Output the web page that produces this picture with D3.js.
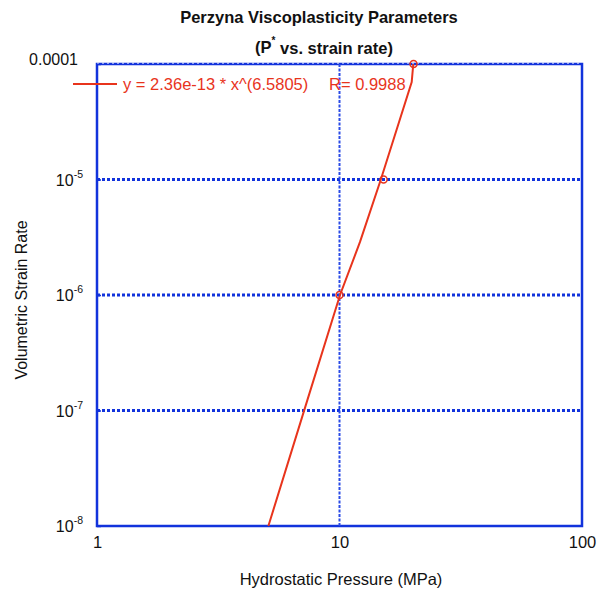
<!DOCTYPE html>
<html>
<head>
<meta charset="utf-8">
<script src="https://cdn.jsdelivr.net/npm/d3@7"></script>
<style>
  body { margin: 0; background: #fff; }
  svg { font-family: "Liberation Sans", Arial, Helvetica, sans-serif; }
</style>
</head>
<body>
<svg id="chart" width="600" height="591"></svg>
<script>
// measured points (circles)
var pressure = [10, 15.2, 20.2];
var strainRate = [1e-6, 1e-5, 1e-4];
// power-law fit line as drawn
var fitX = [5.09, 7.37, 10.05, 12.15, 14.83, 19.85, 20.15];
var fitY = [1e-8, 1.23e-7, 1e-6, 2.88e-6, 1.01e-5, 6.98e-5, 1e-4];
// ticks
var xTicks = [1, 10, 100];
var yTicks = [1e-8, 1e-7, 1e-6, 1e-5, 1e-4];
var yExp = [-8, -7, -6, -5, -4];

var fitLabel = "y = 2.36e-13 * x^(6.5805)";
var rLabel = "R= 0.9988";

(function() {
var pLeft = 97, pRight = 582, pTop = 64, pBottom = 526;
var blue = "#1233dc", red = "#e8341c";

var svg = d3.select("#chart");

var x = d3.scaleLog().domain([1, 100]).range([pLeft, pRight]);
var y = d3.scaleLog().domain([1e-8, 1e-4]).range([pBottom, pTop]);

// frame
svg.append("rect")
    .attr("x", pLeft).attr("y", pTop)
    .attr("width", pRight - pLeft).attr("height", pBottom - pTop)
    .attr("fill", "none")
    .attr("stroke", blue)
    .attr("stroke-width", 2.5);

// horizontal grid (inner decades)
svg.append("g").selectAll("line")
    .data(yTicks.filter(function(d) { return d > 1e-8 && d < 1e-4; }))
    .join("line")
    .attr("x1", pLeft).attr("x2", pRight)
    .attr("y1", function(d) { return y(d); })
    .attr("y2", function(d) { return y(d); })
    .attr("stroke", blue)
    .attr("stroke-width", 3)
    .attr("stroke-dasharray", "3,2");

// top edge dotted look
svg.append("line")
    .attr("x1", pLeft).attr("x2", pRight)
    .attr("y1", pTop - 0.8).attr("y2", pTop - 0.8)
    .attr("stroke", "#fff")
    .attr("stroke-width", 0.8)
    .attr("stroke-dasharray", "2,3");

// vertical grid
svg.append("g").selectAll("line")
    .data(xTicks.filter(function(d) { return d > 1 && d < 100; }))
    .join("line")
    .attr("x1", function(d) { return x(d); })
    .attr("x2", function(d) { return x(d); })
    .attr("y1", pTop).attr("y2", pBottom)
    .attr("stroke", "#2a4be6")
    .attr("stroke-width", 2)
    .attr("stroke-dasharray", "3,1.5");

// axes
var xAxis = svg.append("g")
    .attr("transform", "translate(0," + pBottom + ")")
    .call(d3.axisBottom(x).tickValues(xTicks).tickFormat(d3.format("d")).tickSize(0).tickPadding(10));
xAxis.select(".domain").remove();
xAxis.selectAll("text")
    .attr("font-size", 16.5)
    .attr("fill", "#111")
    .attr("font-family", null);

var yAxis = svg.append("g")
    .attr("transform", "translate(" + pLeft + ",0)")
    .call(d3.axisLeft(y).tickValues(yTicks).tickFormat("").tickSize(-4));
yAxis.select(".domain").remove();
yAxis.selectAll("line").attr("stroke", blue).attr("stroke-width", 1.5);

yAxis.selectAll(".tick").each(function(d, i) {
    var t = d3.select(this).select("text")
        .attr("x", -14)
        .attr("dy", "0.35em")
        .attr("font-size", 16)
        .attr("fill", "#111")
        .attr("font-family", null)
        .attr("text-anchor", "end");
    if (d == 1e-4) {
        t.attr("x", -19).attr("dy", "0.05em").text("0.0001");
    } else {
        t.append("tspan").text("10");
        t.append("tspan")
            .attr("font-size", 10.5)
            .attr("dy", "-0.75em")
            .text(String(yExp[i]));
    }
});

// fit line
var line = d3.line()
    .x(function(d) { return x(d[0]); })
    .y(function(d) { return y(d[1]); });

svg.append("path")
    .datum(d3.zip(fitX, fitY))
    .attr("d", line)
    .attr("fill", "none")
    .attr("stroke", red)
    .attr("stroke-width", 2);

// data points
svg.append("g").selectAll("circle")
    .data(d3.zip(pressure, strainRate))
    .join("circle")
    .attr("cx", function(d) { return x(d[0]); })
    .attr("cy", function(d) { return y(d[1]); })
    .attr("r", 3.5)
    .attr("fill", "none")
    .attr("stroke", red)
    .attr("stroke-width", 1.5);

// legend
svg.append("line")
    .attr("x1", 73).attr("x2", 117)
    .attr("y1", 84).attr("y2", 84)
    .attr("stroke", red)
    .attr("stroke-width", 2);
svg.append("text")
    .attr("x", 123).attr("y", 90)
    .attr("font-size", 16.5)
    .attr("fill", red)
    .text(fitLabel);
svg.append("text")
    .attr("x", 329).attr("y", 90)
    .attr("font-size", 16.5)
    .attr("fill", red)
    .text(rLabel);

// titles
svg.append("text")
    .attr("x", 319).attr("y", 23)
    .attr("text-anchor", "middle")
    .attr("font-size", 16.5)
    .attr("font-weight", "bold")
    .attr("fill", "#111")
    .text("Perzyna Viscoplasticity Parameters");

var sub = svg.append("text")
    .attr("x", 324).attr("y", 53)
    .attr("text-anchor", "middle")
    .attr("font-size", 16.5)
    .attr("font-weight", "bold")
    .attr("fill", "#111");
sub.append("tspan").text("(P");
sub.append("tspan").attr("font-size", 10).attr("dy", "-0.9em").text("*");
sub.append("tspan").attr("dy", "0.6em").text(" vs. strain rate)");

svg.append("text")
    .attr("x", 341).attr("y", 585)
    .attr("text-anchor", "middle")
    .attr("font-size", 16.5)
    .attr("fill", "#111")
    .text("Hydrostatic Pressure (MPa)");

svg.append("text")
    .attr("transform", "translate(27,300) rotate(-90)")
    .attr("text-anchor", "middle")
    .attr("font-size", 16)
    .attr("fill", "#111")
    .text("Volumetric Strain Rate");
})();
</script>
</body>
</html>
